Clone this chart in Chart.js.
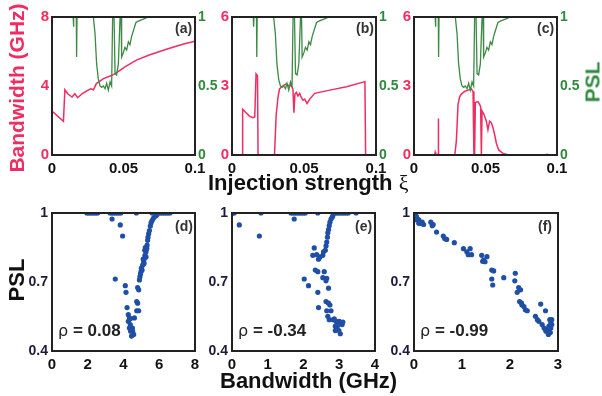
<!DOCTYPE html>
<html lang="en">
<head>
<meta charset="UTF-8">
<title>Bandwidth and PSL vs injection strength</title>
<script src="https://cdn.jsdelivr.net/npm/chart.js"></script>
<style>
  body { margin: 0; background: #fff; font-family: 'Liberation Sans', Arial, sans-serif; }
  #wrap { position: relative; width: 602px; height: 396px; overflow: hidden; }
  #wrap canvas { position: absolute; left: 0; top: 0; }
  .lbl { position: absolute; font-weight: bold; white-space: nowrap; line-height: 1; }
  .rot { transform: translate(-50%, -50%) rotate(-90deg); }
  .tag { font-size: 14px; color: #333; }
  .rho { font-size: 17px; color: #222; }
  .rho span { font-weight: normal; font-family: 'DejaVu Sans', sans-serif; font-size: 16px; }
</style>
</head>
<body>
<div id="wrap">
  <canvas id="ca" width="602" height="396"></canvas>
  <canvas id="cb" width="602" height="396"></canvas>
  <canvas id="cc" width="602" height="396"></canvas>
  <canvas id="cd" width="602" height="396"></canvas>
  <canvas id="ce" width="602" height="396"></canvas>
  <canvas id="cf" width="602" height="396"></canvas>

  <div class="lbl rot" style="left:16px; top:88px; font-size:21px; color:#ef2d62;">Bandwidth (GHz)</div>
  <div class="lbl rot" style="left:592px; top:82px; font-size:21px; color:#2f8a3d;">PSL</div>
  <div class="lbl" style="left:208px; top:172px; font-size:22px; color:#111;">Injection strength <span style="font-family:'Liberation Serif',serif; font-weight:normal;">ξ</span></div>
  <div class="lbl rot" style="left:17px; top:280px; font-size:22px; color:#111;">PSL</div>
  <div class="lbl" style="left:220px; top:370px; font-size:22px; color:#111;">Bandwidth (GHz)</div>

  <div class="lbl tag" style="left:175px; top:21px;">(a)</div>
  <div class="lbl tag" style="left:356px; top:21px;">(b)</div>
  <div class="lbl tag" style="left:537px; top:21px;">(c)</div>
  <div class="lbl tag" style="left:175px; top:219px;">(d)</div>
  <div class="lbl tag" style="left:355px; top:219px;">(e)</div>
  <div class="lbl tag" style="left:538px; top:219px;">(f)</div>

  <div class="lbl rho" style="left:58px; top:322px;"><span>ρ</span> = 0.08</div>
  <div class="lbl rho" style="left:238px; top:322px;"><span>ρ</span> = -0.34</div>
  <div class="lbl rho" style="left:420px; top:322px;"><span>ρ</span> = -0.99</div>
</div>

<script>
  // PSL vs injection strength (same curve in panels a, b, c)
  const pslInj = [0, 0.0148, 0.0150, 0.0153, 0.0170, 0.0172, 0.0175, 0.0289, 0.0301, 0.0312, 0.0324, 0.0336, 0.0347,
    0.0359, 0.0371, 0.0382, 0.0394, 0.0406, 0.0417, 0.0424, 0.0434, 0.0441, 0.0452, 0.0464, 0.0476, 0.0483, 0.0487,
    0.0499, 0.0510, 0.0522, 0.0534, 0.0545, 0.0557, 0.0569, 0.0587, 0.0604, 0.0639, 0.0674, 0.1];
  const pslVal = [1, 1, 0.93, 1, 1, 0.71, 1, 1, 0.88, 0.66, 0.55, 0.50, 0.49,
    0.50, 0.48, 0.52, 0.47, 0.53, 0.50, 1, 1, 0.59, 0.58, 0.66, 1, 1, 0.71,
    0.74, 0.78, 0.76, 0.82, 0.80, 0.86, 0.90, 0.96, 0.97, 0.985, 1, 1];

  // bandwidth vs injection strength
  const injA = [0, 0.0009, 0.008, 0.009, 0.011, 0.014, 0.016, 0.018, 0.021, 0.024, 0.027, 0.029, 0.031, 0.036,
    0.042, 0.046, 0.051, 0.059, 0.068, 0.080, 0.092, 0.1];
  const bwA = [2.5, 2.48, 1.95, 3.78, 3.55, 3.36, 3.55, 3.32, 3.55, 3.7, 3.84, 3.78, 4.14, 4.43,
    4.62, 4.82, 5.11, 5.5, 5.8, 6.13, 6.44, 6.6];

  const injB = [0, 0.0072, 0.0074, 0.0098, 0.0121, 0.0144, 0.0158, 0.0167, 0.0177, 0.0181, 0.0295, 0.0307, 0.0319,
    0.0330, 0.0353, 0.0377, 0.0395, 0.0412, 0.0423, 0.0430, 0.0437, 0.0447, 0.0458, 0.0470, 0.0481, 0.0493, 0.0505,
    0.0521, 0.0540, 0.0574, 0.0679, 0.0795, 0.0923, 0.0928, 0.1];
  const bwB = [0, 0, 1.99, 1.84, 1.69, 1.62, 1.65, 3.53, 3.45, 0, 0, 1.76, 2.5,
    2.87, 3.01, 3.09, 3.01, 3.01, 2.87, 1.84, 2.65, 2.72, 2.57, 2.68, 2.5, 2.38, 2.43,
    2.24, 2.43, 2.68, 2.82, 2.97, 3.19, 0, 0];

  const injC = [0, 0.0145, 0.0148, 0.0152, 0.0168, 0.0170, 0.0172, 0.0176, 0.0285, 0.0296, 0.0308, 0.0319, 0.0331,
    0.0354, 0.0378, 0.0401, 0.0413, 0.0419, 0.0424, 0.0429, 0.0447, 0.0459, 0.0466, 0.0471, 0.0476, 0.0490, 0.0506,
    0.0517, 0.0529, 0.0541, 0.0552, 0.0564, 0.0576, 0.0592, 0.0622, 0.0657, 0.092, 0.093, 0.094, 0.1];
  const bwC = [0, 0.02, 0.12, 0.02, 0.02, 1.59, 0.05, 0, 0, 0.59, 2.2, 2.53, 2.65,
    2.76, 2.82, 2.87, 2.76, 0, 0, 2.28, 2.32, 2.2, 2.1, 0, 1.91, 1.76, 1.47,
    1.1, 1.47, 1.40, 1.2, 0.88, 0.51, 0.22, 0.07, 0.01, 0.01, 0.03, 0.01, 0];

  // PSL vs bandwidth scatter
  const bwD = [1.95, 2.05, 2.15, 2.25, 2.35, 2.45, 2.55, 3.25, 3.35, 3.45, 3.55, 3.65, 3.75, 3.85, 4.72,
    5.6, 5.7, 5.8, 5.9, 6.0, 6.1, 6.2, 6.3, 6.4, 6.5, 6.6,
    3.36, 3.82, 3.95, 3.54, 4.10, 4.14, 4.2, 4.27, 4.33, 4.27, 4.38, 4.33, 4.44, 4.51, 4.57, 4.4, 4.61, 4.45, 4.5, 4.38,
    4.74, 4.79, 4.74, 4.85, 4.79, 4.85, 4.89, 4.92, 4.98, 5.04, 5.07, 5.13, 5.17, 5.2, 5.26, 5.19, 5.3, 5.26,
    5.32, 5.35, 5.37, 5.41, 5.45, 5.5, 5.54, 5.6, 5.67, 5.78, 5.86, 5.0, 5.1, 5.22, 4.95, 5.15];
  const pslD = [1, 1, 1, 1, 1, 1, 1, 1, 1, 1, 1, 1, 1, 1, 1,
    1, 1, 1, 1, 1, 1, 1, 1, 1, 1, 1,
    0.974, 0.948, 0.90, 0.713, 0.684, 0.655, 0.589, 0.558, 0.544, 0.529, 0.515, 0.50, 0.493, 0.486, 0.472, 0.486, 0.544, 0.465, 0.5, 0.54,
    0.615, 0.608, 0.575, 0.575, 0.676, 0.666, 0.709, 0.723, 0.745, 0.752, 0.773, 0.788, 0.802, 0.816, 0.831, 0.838, 0.845, 0.809,
    0.86, 0.881, 0.895, 0.91, 0.924, 0.943, 0.957, 0.967, 0.977, 0.986, 0.991, 0.76, 0.8, 0.85, 0.735, 0.78];

  const bwE = [0, 0.03, 0.06, 0.81, 1.65, 1.7, 1.75, 1.8, 1.85, 1.9, 1.95, 2.0, 2.05, 2.4,
    2.86, 2.9, 2.95, 3.0, 3.05, 3.1, 3.15, 3.2, 3.25, 3.47,
    0.205, 0.765, 1.74, 2.74, 2.77, 2.8, 2.82, 2.72, 2.7, 2.68, 2.67, 2.65, 2.63, 2.61,
    2.3, 2.26, 2.37, 2.46, 2.54, 2.56, 2.42, 2.33, 2.4, 2.58, 2.65, 2.54, 2.63, 2.02, 2.14, 2.4, 2.7,
    2.63, 2.7, 2.74, 2.42, 2.65, 2.77, 2.68, 2.72, 2.83, 2.86, 2.91, 2.96, 3.0, 3.05, 3.1, 2.89, 2.93, 2.99, 3.03, 2.89, 2.95, 3.08];
  const pslE = [1, 1, 1, 1, 1, 1, 1, 1, 1, 1, 1, 1, 1, 1,
    1, 1, 1, 1, 1, 1, 1, 1, 1, 1,
    0.948, 0.90, 0.974, 0.96, 0.974, 0.981, 0.988, 0.945, 0.928, 0.914, 0.895, 0.874, 0.857, 0.838,
    0.848, 0.816, 0.819, 0.809, 0.816, 0.831, 0.799, 0.752, 0.745, 0.745, 0.716, 0.719, 0.705, 0.713, 0.684, 0.655, 0.673,
    0.615, 0.608, 0.6, 0.589, 0.575, 0.575, 0.551, 0.536, 0.536, 0.54, 0.529, 0.522, 0.529, 0.522, 0.526, 0.508, 0.497, 0.489, 0.475, 0.489, 0.51, 0.515];

  const bwF = [0.01, 0.03, 0.05, 0.07, 0.1, 0.05, 0.12, 0.15, 0.2, 0.1, 0.17, 0.35, 0.38, 0.4,
    0.47, 0.61, 0.64, 0.68, 0.84, 1.03, 1.1, 1.17, 1.2, 1.13, 1.41, 1.45, 1.48, 1.43, 1.52,
    1.62, 1.66, 1.62, 1.64, 1.87, 2.11, 2.1, 2.18, 2.22, 2.15, 2.2, 2.25, 2.29, 2.32, 2.36, 2.24,
    2.53, 2.57, 2.6, 2.64, 2.74, 2.67, 2.71, 2.74, 2.78, 2.81, 2.85, 2.83, 2.87, 2.8, 2.75, 2.81, 2.85, 2.87, 2.84];
  const pslF = [0.995, 0.99, 0.985, 0.975, 0.97, 0.97, 0.96, 0.955, 0.95, 0.955, 0.96, 0.96, 0.945, 0.95,
    0.917, 0.9, 0.889, 0.885, 0.871, 0.845, 0.831, 0.845, 0.819, 0.819, 0.816, 0.795, 0.788, 0.79, 0.81,
    0.752, 0.748, 0.713, 0.687, 0.719, 0.738, 0.705, 0.676, 0.666, 0.655, 0.615, 0.6, 0.593, 0.579, 0.575, 0.608,
    0.551, 0.536, 0.529, 0.604, 0.575, 0.515, 0.5, 0.493, 0.486, 0.508, 0.522, 0.536, 0.536, 0.472, 0.486, 0.493, 0.5, 0.515, 0.48];

  // tick values
  const injTicks = [0, 0.05, 0.1];
  const bwTicksA = [0, 4, 8];
  const bwTicksBC = [0, 3, 6];
  const pslTicks = [0, 0.5, 1];
  const scatPslTicks = [0.4, 0.7, 1];
  const bwTicksD = [0, 2, 4, 6, 8];
  const bwTicksE = [0, 1, 2, 3, 4];
  const bwTicksF = [0, 1, 2, 3];

  const PINK = '#ef2d62', GREEN = '#2f8a3d', BLUE = '#1f4fa5';
  const W = 602, H = 396, YW = 40, XH = 22;
  const FAMILY = "'Liberation Sans', Arial, sans-serif";

  const boxPlugin = {
    id: 'box',
    afterDatasetsDraw(chart) {
      const a = chart.chartArea, c = chart.ctx;
      c.save();
      c.strokeStyle = '#222';
      c.lineWidth = 2;
      c.strokeRect(a.left, a.top, a.right - a.left, a.bottom - a.top);
      c.restore();
    }
  };

  const pts = (xs, ys) => xs.map((x, i) => ({ x, y: ys[i] }));
  const fixTicks = vals => s => { s.ticks = vals.map(v => ({ value: v })); };

  function axis(pos, min, max, ticks, color, size, pad, fsize) {
    const horiz = pos === 'bottom';
    return {
      type: 'linear', position: pos, min, max,
      afterBuildTicks: fixTicks(ticks),
      afterFit: s => { if (horiz) s.height = size; else s.width = size; },
      grid: { display: false, drawTicks: false }, border: { display: false },
      ticks: { color, font: { family: FAMILY, size: fsize || 14, weight: 'bold' }, padding: pad,
               maxRotation: 0, autoSkip: false, callback: v => String(v) }
    };
  }

  function baseOpts(box, rightW) {
    return {
      responsive: false, animation: false, devicePixelRatio: 1,
      layout: { padding: { left: box.l - YW, top: box.t, right: W - box.r - rightW, bottom: H - box.b - XH } },
      plugins: { legend: { display: false }, tooltip: { enabled: false } }
    };
  }

  function topPanel(id, box, inj, bw, bwMax, bwTicks) {
    const opts = baseOpts(box, YW);
    opts.scales = {
      x: axis('bottom', 0, 0.1, injTicks, '#111', XH, 5, 15),
      y: axis('left', 0, bwMax, bwTicks, PINK, YW, 3, 15),
      y2: axis('right', 0, 1, pslTicks, GREEN, YW, 3, 14)
    };
    new Chart(document.getElementById(id), {
      type: 'line',
      data: {
        datasets: [
          { data: pts(pslInj, pslVal), yAxisID: 'y2', borderColor: '#3d8a44', borderWidth: 1.3, pointRadius: 0, tension: 0 },
          { data: pts(inj, bw), yAxisID: 'y', borderColor: PINK, borderWidth: 1.5, pointRadius: 0, tension: 0 }
        ]
      },
      options: opts,
      plugins: [boxPlugin]
    });
  }

  function scatterPanel(id, box, bw, psl, bwMax, bwTicks) {
    const opts = baseOpts(box, 0);
    opts.scales = {
      x: axis('bottom', 0, bwMax, bwTicks, '#111', XH, 5, 15),
      y: axis('left', 0.4, 1, scatPslTicks, '#1c1c3a', YW, 4, 14)
    };
    new Chart(document.getElementById(id), {
      type: 'scatter',
      data: { datasets: [{ data: pts(bw, psl), backgroundColor: BLUE, borderWidth: 0, pointRadius: 2.6 }] },
      options: opts,
      plugins: [boxPlugin]
    });
  }

  topPanel('ca', { l: 52, t: 17, r: 195, b: 155 }, injA, bwA, 8, bwTicksA);
  topPanel('cb', { l: 232, t: 17, r: 376, b: 155 }, injB, bwB, 6, bwTicksBC);
  topPanel('cc', { l: 414, t: 17, r: 557, b: 155 }, injC, bwC, 6, bwTicksBC);
  scatterPanel('cd', { l: 52, t: 213, r: 195, b: 351 }, bwD, pslD, 8, bwTicksD);
  scatterPanel('ce', { l: 232, t: 213, r: 375, b: 351 }, bwE, pslE, 4, bwTicksE);
  scatterPanel('cf', { l: 414, t: 213, r: 558, b: 351 }, bwF, pslF, 3, bwTicksF);
</script>
</body>
</html>
